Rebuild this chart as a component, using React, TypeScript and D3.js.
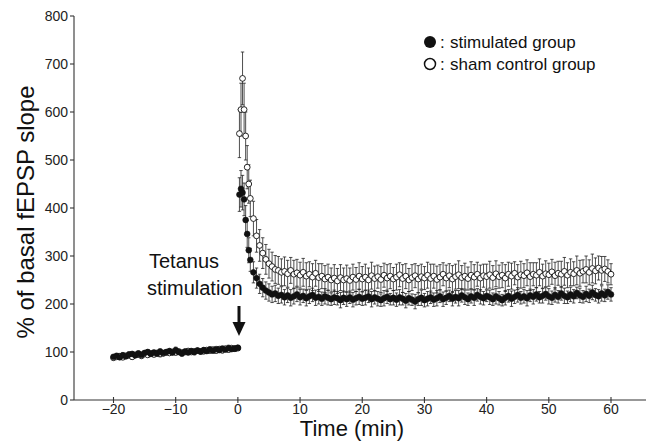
import React from "react";
import * as d3 from "d3";

// time axis: baseline every 30 s, first 2 min after tetanus every 15 s, then every 30 s
const baseTimes = d3.range(-20, 0.001, 0.5);
const postTimes = [...d3.range(0.25, 2.001, 0.25), ...d3.range(2.5, 60.001, 0.5)];

const shamBase = [
  88, 90, 91, 89, 92, 93, 90, 94, 95, 92,
  96, 94, 97, 95, 98, 96, 97, 99, 98, 100,
  99, 101, 98, 100, 102, 100, 101, 103, 101, 102,
  104, 103, 105, 103, 106, 104, 107, 105, 108, 107,
  108,
];
const stimBase = [
  90, 92, 89, 93, 91, 95, 96, 93, 97, 94,
  98, 100, 96, 99, 97, 101, 98, 100, 102, 99,
  104, 100, 97, 101, 99, 102, 100, 103, 101, 104,
  102, 105, 103, 106, 104, 107, 105, 108, 106, 107,
  109,
];
const shamBaseErr = [
  5, 4, 6, 4, 5, 3, 5, 4, 6, 4,
  5, 4, 3, 5, 4, 6, 4, 5, 3, 4,
  5, 4, 6, 3, 5, 4, 5, 3, 4, 6,
  4, 5, 3, 5, 4, 6, 4, 5, 3, 5,
  4,
];
const stimBaseErr = [
  4, 5, 3, 6, 4, 5, 4, 3, 5, 6,
  4, 5, 3, 4, 6, 5, 4, 3, 5, 4,
  6, 4, 5, 3, 4, 5, 6, 4, 3, 5,
  4, 6, 5, 3, 4, 5, 4, 6, 3, 5,
  4,
];

const shamPost = [
  555, 605, 670, 605, 550, 485, 450, 420,
  378, 342, 322, 306, 293, 284, 278, 272, 270, 266,
  268, 263, 270, 262, 265, 260, 266, 258, 262, 256,
  264, 255, 258, 252, 256, 250, 254, 248, 255, 250,
  253, 249, 256, 251, 258, 252,
  256, 250, 259, 253, 257, 251, 260, 254, 258, 252,
  256, 261, 253, 258, 250, 255, 259, 252, 257, 254,
  260, 253, 258, 251, 256, 262, 254, 259, 252, 257,
  261, 255, 258, 253, 260, 256, 262, 254, 259, 257,
  261, 255, 263, 257, 260, 254, 262, 258, 264, 256,
  261, 259, 265, 257, 262, 260, 266, 258, 263, 261,
  267, 259, 264, 262, 268, 260, 266, 263, 270, 264,
  268, 272, 266, 274, 269, 275, 270, 273, 268, 262,
];
const shamPostErr = [
  50, 55, 55, 55, 50, 45, 40, 38,
  36, 34, 33, 32, 31, 30, 30, 29, 29, 28,
  30, 28, 27, 29, 28, 27, 29, 28, 26, 28,
  27, 29, 26, 28, 27, 25, 28, 26, 27, 25,
  28, 26, 27, 25, 28, 26,
  27, 25, 28, 26, 24, 27, 25, 28, 26, 24,
  27, 25, 29, 26, 24, 27, 25, 28, 26, 24,
  27, 30, 25, 28, 26, 24, 27, 25, 28, 26,
  29, 25, 27, 24, 28, 26, 25, 27, 24, 26,
  28, 25, 27, 24, 26, 28, 25, 27, 24, 26,
  28, 25, 27, 29, 24, 26, 28, 25, 27, 24,
  26, 28, 25, 27, 29, 26, 28, 25, 30, 27,
  24, 28, 26, 30, 27, 25, 29, 26, 24, 22,
];
const stimPost = [
  428, 440, 432, 418, 375, 346, 312, 292,
  266, 254, 242, 234, 228, 224, 220, 222, 217, 219,
  214, 218, 213, 216, 220, 214, 217, 212, 216, 219,
  213, 215, 211, 216, 213, 210, 214, 212, 208, 213,
  210, 214, 209, 212, 215, 211,
  213, 216, 210, 214, 211, 208, 212, 215, 210, 213,
  209, 214, 211, 207, 212, 209, 205, 210, 213, 208,
  211, 214, 209, 212, 216, 210, 213, 217, 211, 215,
  212, 218, 214, 210, 216, 213, 219, 215, 212, 217,
  214, 210, 216, 212, 208, 213, 217, 211, 215, 219,
  213, 216, 212, 218, 215, 220, 214, 217, 221, 216,
  213, 219, 215, 222, 217, 214, 220, 216, 223, 218,
  215, 221, 217, 224, 219, 216, 222, 218, 225, 220,
];
const stimPostErr = [
  35, 38, 36, 34, 30, 28, 26, 24,
  22, 21, 20, 19, 18, 18, 17, 17, 16, 17,
  16, 15, 17, 16, 15, 16, 14, 16, 15, 14,
  16, 15, 14, 16, 15, 13, 15, 14, 16, 14,
  15, 13, 15, 14, 16, 14,
  15, 13, 16, 14, 15, 13, 16, 14, 12, 15,
  14, 16, 13, 15, 14, 12, 15, 13, 16, 14,
  15, 13, 14, 16, 13, 15, 14, 12, 15, 13,
  16, 14, 15, 13, 14, 16, 13, 15, 14, 12,
  15, 13, 16, 14, 12, 15, 13, 16, 14, 15,
  13, 14, 16, 13, 15, 14, 12, 15, 13, 16,
  14, 15, 13, 14, 16, 13, 15, 14, 12, 15,
  13, 16, 14, 15, 13, 14, 16, 13, 15, 14,
];

const xTicks = [-20, -10, 0, 10, 20, 30, 40, 50, 60];
const yTicks = [0, 100, 200, 300, 400, 500, 600, 700, 800];

type Pt = { t: number; v: number; e: number };

const build = (times: number[], vals: number[], errs: number[]): Pt[] =>
  vals.slice(0, times.length).map((v, i) => ({ t: times[i], v, e: errs[i] ?? 0 }));

const sham = [...build(baseTimes, shamBase, shamBaseErr), ...build(postTimes, shamPost, shamPostErr)];
const stim = [...build(baseTimes, stimBase, stimBaseErr), ...build(postTimes, stimPost, stimPostErr)];

const font = "'Liberation Sans', Arial, sans-serif";

const App = () => {
  const width = 648;
  const height = 442;
  const x = d3.scaleLinear().domain([-20, 60]).range([113.5, 611]);
  const y = d3.scaleLinear().domain([0, 800]).range([400, 16]);
  const axisLeft = 74;
  const axisRight = 646;
  const r = 2.9;
  const cap = 1.7;

  const errPath = (data: Pt[]) =>
    data
      .map(d => {
        const cx = x(d.t);
        const y1 = y(d.v + d.e);
        const y2 = y(d.v - d.e);
        return `M${cx},${y1}V${y2}M${cx - cap},${y1}H${cx + cap}M${cx - cap},${y2}H${cx + cap}`;
      })
      .join("");

  return (
    <svg width={width} height={height} style={{ position: "absolute", left: 0, top: 0, background: "#fff" }}>
      {/* axes */}
      <g stroke="#333" strokeWidth={1.1} fill="none">
        <line x1={axisLeft} x2={axisLeft} y1={y(800)} y2={y(0)} />
        <line x1={axisLeft} x2={axisRight} y1={y(0)} y2={y(0)} />
        {yTicks.map(t => (
          <line key={t} x1={axisLeft - 4} x2={axisLeft} y1={y(t)} y2={y(t)} />
        ))}
        {xTicks.map(t => (
          <line key={t} x1={x(t)} x2={x(t)} y1={y(0) - 3} y2={y(0) + 3} />
        ))}
      </g>
      <g fontFamily={font} fontSize={14} fill="#222">
        {yTicks.map(t => (
          <text key={t} x={axisLeft - 6} y={y(t)} dy="0.35em" textAnchor="end">{t}</text>
        ))}
        {xTicks.map(t => (
          <text key={t} x={x(t)} y={414} textAnchor="middle">{t < 0 ? `\u2212${-t}` : t}</text>
        ))}
      </g>

      {/* error bars */}
      <path d={errPath(sham)} stroke="#222" strokeWidth={0.8} fill="none" />
      <path d={errPath(stim)} stroke="#222" strokeWidth={0.8} fill="none" />

      {/* points */}
      <g>
        {sham.map((d, i) => (
          <circle key={i} cx={x(d.t)} cy={y(d.v)} r={r} fill="#fff" stroke="#111" strokeWidth={0.9} />
        ))}
        {stim.map((d, i) => (
          <circle key={i} cx={x(d.t)} cy={y(d.v)} r={r} fill="#111" stroke="#111" strokeWidth={0.6} />
        ))}
      </g>

      {/* tetanus annotation */}
      <g fontFamily={font} fontSize={20} fill="#111">
        <text x={149} y={268}>Tetanus</text>
        <text x={147} y={295}>stimulation</text>
      </g>
      <line x1={239} x2={239} y1={306} y2={324} stroke="#111" strokeWidth={3} />
      <path d="M232.5,322 L245.5,322 L239,336 Z" fill="#111" />

      {/* legend */}
      <g fontFamily={font} fontSize={17} fill="#111">
        <circle cx={430} cy={42} r={6} fill="#111" />
        <circle cx={430} cy={64} r={5.5} fill="#fff" stroke="#111" strokeWidth={1.5} />
        <text x={440} y={48}>:</text>
        <text x={440} y={70}>:</text>
        <text x={450} y={48}>stimulated group</text>
        <text x={450} y={70}>sham control group</text>
      </g>

      {/* axis titles */}
      <text
        transform={`translate(34,${y(400) + 4}) rotate(-90)`}
        textAnchor="middle"
        fontFamily={font}
        fontSize={24}
        fill="#111"
      >
        % of basal fEPSP slope
      </text>
      <text x={352} y={436} textAnchor="middle" fontFamily={font} fontSize={22} fill="#111">
        Time (min)
      </text>
    </svg>
  );
};

export default App;
